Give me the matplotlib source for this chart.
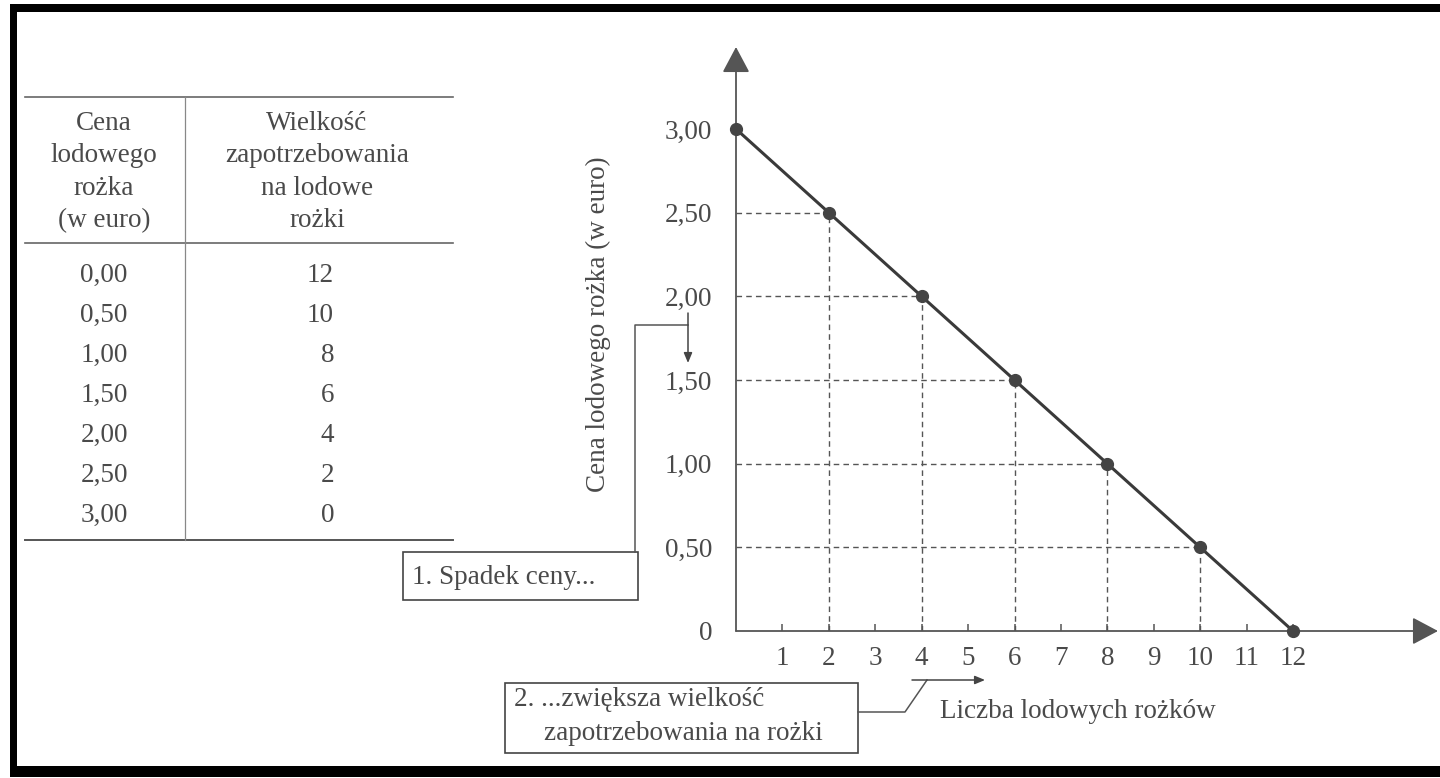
import matplotlib.pyplot as plt
from matplotlib.patches import Rectangle

plt.rcParams['font.family'] = ['Liberation Serif', 'DejaVu Serif']

# dane z tabeli
ceny = [0.00, 0.50, 1.00, 1.50, 2.00, 2.50, 3.00]
ilosc = [12, 10, 8, 6, 4, 2, 0]
naglowek_1 = ["Cena", "lodowego", "rożka", "(w euro)"]
naglowek_2 = ["Wielkość", "zapotrzebowania", "na lodowe", "rożki"]
x_ticks = list(range(1, 13))
y_ticks = [0, 0.5, 1.0, 1.5, 2.0, 2.5, 3.0]

W, H = 1440, 778
txt = "#4a4a4a"
fig = plt.figure(figsize=(W / 100, H / 100), dpi=100)
fig.patch.set_facecolor("white")

# warstwa w pikselach: tabela, ramki, strzałki
ov = fig.add_axes([0, 0, 1, 1])
ov.set_xlim(0, W)
ov.set_ylim(H, 0)
ov.axis("off")

# czarna ramka
for r in [(10, 4, 7, 773), (10, 4, 1430, 8), (10, 766, 1430, 11)]:
    ov.add_patch(Rectangle((r[0], r[1]), r[2], r[3], color="black", lw=0))

# tabela
fs = 19.5
ov.plot([25, 453], [97, 97], color="#666", lw=1.2)
ov.plot([25, 453], [243, 243], color="#666", lw=1.2)
ov.plot([25, 453], [540, 540], color="#555", lw=1.4)
ov.plot([185, 185], [97, 540], color="#888", lw=0.9)
for i, (a, b) in enumerate(zip(naglowek_1, naglowek_2)):
    y = 123 + i * 32.5
    ov.text(104, y, a, ha="center", va="center", fontsize=fs, color=txt)
    ov.text(317, y, b, ha="center", va="center", fontsize=fs, color=txt)
for i, (c, q) in enumerate(zip(ceny, ilosc)):
    y = 275 + i * 40
    ov.text(104, y, f"{c:.2f}".replace(".", ","), ha="center", va="center",
            fontsize=fs, color=txt)
    ov.text(334, y, str(q), ha="right", va="center", fontsize=fs, color=txt)

# osie ze strzałkami
ax_col = "#555"
ov.annotate("", xy=(1438, 631), xytext=(736, 631),
            arrowprops=dict(arrowstyle="-|>,head_length=1.6,head_width=0.85",
                            color=ax_col, lw=1.3, shrinkA=0, shrinkB=0))
ov.annotate("", xy=(736, 47), xytext=(736, 631),
            arrowprops=dict(arrowstyle="-|>,head_length=1.6,head_width=0.85",
                            color=ax_col, lw=1.3, shrinkA=0, shrinkB=0))

# adnotacja 1
ov.add_patch(Rectangle((403, 552), 235, 48, fill=False, ec="#444", lw=1.2))
ov.text(412, 577, "1. Spadek ceny...", ha="left", va="center", fontsize=fs, color=txt)
ov.plot([635, 635, 688], [552, 325, 325], color="#555", lw=1.1)
ov.annotate("", xy=(688, 363), xytext=(688, 313),
            arrowprops=dict(arrowstyle="-|>,head_length=0.6,head_width=0.25",
                            color="#444", lw=1.1, shrinkA=0, shrinkB=0))

# adnotacja 2
ov.add_patch(Rectangle((505, 683), 353, 70, fill=False, ec="#444", lw=1.2))
ov.text(514, 699, "2. ...zwiększa wielkość", ha="left", va="center", fontsize=fs, color=txt)
ov.text(544, 734, "zapotrzebowania na rożki", ha="left", va="center", fontsize=fs, color=txt)
ov.plot([858, 905, 927], [712, 712, 680], color="#555", lw=1.1)
ov.annotate("", xy=(985, 680), xytext=(912, 680),
            arrowprops=dict(arrowstyle="-|>,head_length=0.6,head_width=0.25",
                            color="#444", lw=1.1, shrinkA=0, shrinkB=0))

# podpisy osi
ov.text(940, 712, "Liczba lodowych rożków", ha="left", va="center", fontsize=fs, color=txt)
ov.text(598, 324, "Cena lodowego rożka (w euro)", ha="center", va="center",
        rotation=90, fontsize=fs, color=txt)

# wykres krzywej popytu
x0, x1, y0, y1 = 736, 1293, 631, 129
ax = fig.add_axes([x0 / W, (H - y0) / H, (x1 - x0) / W, (y0 - y1) / H])
ax.patch.set_alpha(0)
ax.set_xlim(0, 12)
ax.set_ylim(0, 3)
for s in ax.spines.values():
    s.set_visible(False)

for q, c in zip(ilosc, ceny):
    if q > 0 and c > 0:
        ax.plot([0, q], [c, c], ls=(0, (4, 3)), color="#555", lw=1.0)
        ax.plot([q, q], [0, c], ls=(0, (4, 3)), color="#555", lw=1.0)

ax.plot(ilosc, ceny, color="#3a3a3a", lw=2.2, marker="o", markersize=8.5,
        markerfacecolor="#444", markeredgecolor="#444", clip_on=False, zorder=5)

ax.set_xticks(x_ticks)
ax.set_xticklabels([str(t) for t in x_ticks], fontsize=fs, color=txt)
ax.tick_params(axis="x", direction="in", length=5, width=1.1, color=ax_col, pad=11)
ax.set_yticks(y_ticks)
ax.set_yticklabels(["0" if t == 0 else f"{t:.2f}".replace(".", ",") for t in y_ticks],
                   fontsize=fs, color=txt)
ax.tick_params(axis="y", length=0, pad=17)

fig.savefig("out.png", dpi=100, facecolor="white")
